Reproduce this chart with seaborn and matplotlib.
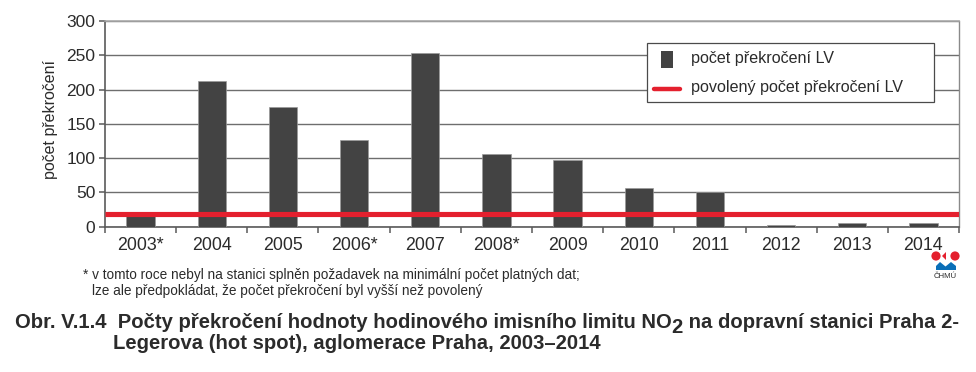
import matplotlib
matplotlib.use("Agg")
import matplotlib.pyplot as plt
from matplotlib.patches import Circle, Polygon, Rectangle
import seaborn as sns
import pandas as pd

years = ["2003*", "2004", "2005", "2006*", "2007", "2008*", "2009", "2010", "2011", "2012", "2013", "2014"]
exceedances = [18, 212, 174, 126, 254, 106, 98, 56, 51, 3, 6, 5]
allowed = 18
bar_label = "počet překročení LV"
line_label = "povolený počet překročení LV"
y_label = "počet překročení"
note1 = "* v tomto roce nebyl na stanici splněn požadavek na minimální počet platných dat;"
note2 = "lze ale předpokládat, že počet překročení byl vyšší než povolený"
title_a = "Obr. V.1.4  Počty překročení hodnoty hodinového imisního limitu NO"
title_b = "2"
title_c = " na dopravní stanici Praha 2-"
title_2 = "Legerova (hot spot), aglomerace Praha, 2003–2014"

W, H = 976, 372
sns.set_theme(style="white")
plt.rcParams["font.family"] = ["Liberation Sans", "DejaVu Sans"]
TXT = "#2b2b2b"
AX = "#5a5a5a"
BAR = "#434343"
RED = "#e4202e"

fig = plt.figure(figsize=(W / 100, H / 100), dpi=100, facecolor="white")
ax = fig.add_axes([105 / W, 1 - 226.7 / H, (959 - 105) / W, (226.7 - 21) / H])

df = pd.DataFrame({"rok": years, "pocet": exceedances})
sns.barplot(data=df, x="rok", y="pocet", color=BAR, saturation=1, width=0.4, ax=ax,
            edgecolor="#9a9a9a", linewidth=0.5, zorder=3)
ax.axhline(allowed, color=RED, lw=3.7, zorder=4, solid_capstyle="butt")

ax.set_xlim(-0.5, len(years) - 0.5)
ax.set_ylim(0, 300)
ax.set_yticks(range(0, 301, 50))
ax.yaxis.grid(True, color="#6e6e6e", lw=1.0, zorder=0)
ax.xaxis.grid(False)
ax.set_axisbelow(True)
ax.set_xticks([i - 0.5 for i in range(len(years) + 1)])
ax.set_xticklabels([])
ax.set_xticks(range(len(years)), minor=True)
ax.set_xticklabels(years, minor=True, fontsize=12.8, color=TXT)
ax.tick_params(axis="x", which="major", length=4, width=1.1, color=AX, bottom=True, direction="out", pad=0)
ax.tick_params(axis="x", which="minor", length=0, pad=7.5, bottom=False)
ax.tick_params(axis="y", length=4, width=1.1, color=AX, left=True, direction="out", pad=3, labelsize=12.5, labelcolor=TXT)
ax.set_xlabel("")
ax.set_ylabel("")
fig.text(50.5 / W, 1 - 120 / H, y_label, rotation=90, ha="center", va="center", fontsize=11.5, color=TXT)

for s in ["left", "bottom"]:
    ax.spines[s].set_color(AX)
    ax.spines[s].set_linewidth(1.2)
ax.spines["top"].set_visible(True)
ax.spines["top"].set_color("#a8a8a8")
ax.spines["top"].set_linewidth(1.2)
ax.spines["right"].set_color("#8a8a8a")
ax.spines["right"].set_linewidth(1.0)

# legend box drawn in pixel coordinates of the figure
ov = fig.add_axes([0, 0, 1, 1], facecolor="none")
ov.set_xlim(0, W)
ov.set_ylim(H, 0)
ov.axis("off")
ov.add_patch(Rectangle((647, 42.5), 286.5, 59.5, fc="white", ec="#4a4a4a", lw=0.9, zorder=5))
ov.add_patch(Rectangle((661, 51), 11.5, 17, fc=BAR, ec="none", zorder=6))
ov.plot([654, 680], [88.5, 88.5], color=RED, lw=3.2, solid_capstyle="round", zorder=6)
ov.text(691, 59, bar_label, fontsize=11.65, color=TXT, va="center", zorder=6)
ov.text(691, 87.5, line_label, fontsize=11.65, color=TXT, va="center", zorder=6)

# notes
ov.text(83, 275, note1, fontsize=9.85, color=TXT, va="center")
ov.text(92, 291, note2, fontsize=9.85, color=TXT, va="center")

# caption
TFS = 14.62
r = fig.canvas.get_renderer()
a = ov.text(15, 328, title_a, fontsize=TFS, fontweight="bold", color=TXT, va="baseline")
x1 = a.get_window_extent(r).x1
b = ov.text(x1, 333, title_b, fontsize=TFS, fontweight="bold", color=TXT, va="baseline")
x2 = b.get_window_extent(r).x1
ov.text(x2, 328, title_c, fontsize=TFS, fontweight="bold", color=TXT, va="baseline")
ov.text(113, 349, title_2, fontsize=TFS, fontweight="bold", color=TXT, va="baseline")

# ČHMÚ logo
ov.add_patch(Circle((936, 256), 4.6, fc=RED, ec="none", zorder=6))
ov.add_patch(Circle((955, 256), 4.6, fc=RED, ec="none", zorder=6))
ov.add_patch(Polygon([(942, 256), (946, 252), (946, 260)], fc=RED, ec="none", zorder=6))
ov.add_patch(Polygon([(936, 270), (936, 266), (940, 262), (945.5, 266.5), (951, 262), (956, 266), (956, 270)],
                     fc="#0a6fb8", ec="none", zorder=6))
ov.text(945.5, 276.5, "ČHMÚ", fontsize=5.6, color=TXT, ha="center", va="center", zorder=6)

fig.savefig("out.png", dpi=100, facecolor="white")
